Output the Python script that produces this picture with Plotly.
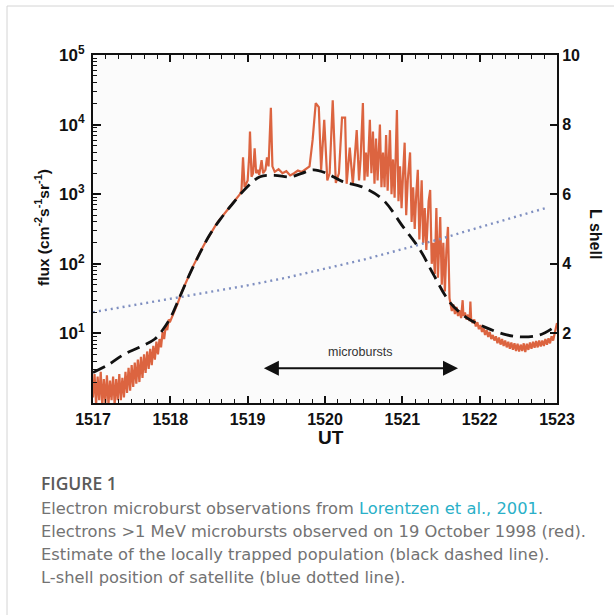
import plotly.graph_objects as go

# ---------------- data ----------------
red_time = [
    1517.00, 1517.02, 1517.04, 1517.06, 1517.08, 1517.10, 1517.12, 1517.14, 1517.16, 1517.18,
    1517.20, 1517.22, 1517.24, 1517.26, 1517.28, 1517.30, 1517.32, 1517.34, 1517.36, 1517.38,
    1517.40, 1517.42, 1517.44, 1517.46, 1517.48, 1517.50, 1517.52, 1517.54, 1517.56, 1517.58,
    1517.60, 1517.62, 1517.64, 1517.66, 1517.68, 1517.70, 1517.72, 1517.74, 1517.76, 1517.78,
    1517.80, 1517.82, 1517.84, 1517.86, 1517.88, 1517.90, 1517.92, 1517.94, 1517.96, 1517.98,
    1518.00, 1518.05, 1518.10, 1518.15, 1518.20, 1518.25, 1518.30, 1518.35, 1518.40, 1518.45,
    1518.50, 1518.55, 1518.60, 1518.65, 1518.70, 1518.75, 1518.80, 1518.85, 1518.90,
    1518.92, 1518.94, 1518.96, 1518.98, 1519.00, 1519.02, 1519.03, 1519.05, 1519.07, 1519.09,
    1519.11, 1519.13, 1519.15, 1519.18, 1519.20, 1519.23, 1519.25, 1519.27, 1519.30, 1519.32,
    1519.35, 1519.40, 1519.45, 1519.50, 1519.55, 1519.60, 1519.65, 1519.70, 1519.75,
    1519.80, 1519.84, 1519.88, 1519.92, 1519.95, 1519.99, 1520.03, 1520.06, 1520.10, 1520.14,
    1520.18, 1520.22, 1520.26, 1520.28, 1520.32, 1520.36, 1520.41, 1520.44, 1520.46, 1520.49,
    1520.51, 1520.53, 1520.55, 1520.58, 1520.60, 1520.62, 1520.64, 1520.66, 1520.68, 1520.71,
    1520.73, 1520.75, 1520.77, 1520.79, 1520.81, 1520.84, 1520.86, 1520.88, 1520.90, 1520.93,
    1520.95, 1520.97, 1520.99, 1521.01, 1521.03, 1521.05, 1521.07, 1521.10, 1521.12, 1521.14,
    1521.16, 1521.18, 1521.20, 1521.22, 1521.25, 1521.27, 1521.29, 1521.31, 1521.34, 1521.36,
    1521.38, 1521.40, 1521.42, 1521.44, 1521.46, 1521.49, 1521.51, 1521.53, 1521.55, 1521.57,
    1521.59, 1521.61, 1521.64, 1521.66, 1521.68, 1521.70, 1521.72, 1521.74, 1521.76, 1521.78,
    1521.79, 1521.81, 1521.83, 1521.85, 1521.87, 1521.88, 1521.89, 1521.91, 1521.93, 1521.95,
    1521.97, 1521.99, 1522.01, 1522.03, 1522.05, 1522.07, 1522.09, 1522.11, 1522.13, 1522.15,
    1522.17, 1522.19, 1522.21, 1522.23, 1522.25, 1522.27, 1522.29, 1522.31, 1522.33, 1522.35,
    1522.37, 1522.39, 1522.41, 1522.43, 1522.45, 1522.47, 1522.49, 1522.51, 1522.53, 1522.55,
    1522.57, 1522.59, 1522.61, 1522.63, 1522.65, 1522.67, 1522.69, 1522.71, 1522.73, 1522.75,
    1522.77, 1522.79, 1522.81, 1522.83, 1522.85, 1522.87, 1522.89, 1522.91, 1522.93, 1522.95,
    1522.97, 1522.99, 1523.00,
]
red_flux = [
    1.2, 2.6, 0.95, 2.4, 1.1, 2.8, 0.9, 2.2, 1.0, 2.5,
    0.95, 2.1, 1.1, 2.4, 0.95, 2.2, 1.1, 2.6, 1.1, 2.3,
    1.2, 2.8, 1.4, 3.2, 1.5, 3.5, 1.7, 3.8, 1.9, 4.2,
    2.0, 4.6, 2.3, 5.0, 2.7, 5.5, 3.1, 6.0, 3.5, 6.6,
    4.2, 7.6, 5.0, 8.3, 6.3, 10.5, 8.3, 12.6, 11.2, 15.8,
    15, 20, 28, 40, 52, 71, 95, 126, 158, 200,
    251, 316, 380, 447, 525, 631, 724, 851, 1000,
    1120, 3390, 1260, 1410, 1580, 3550, 7940, 1780, 2000, 4570,
    2000, 2240, 1900, 3090, 2000, 2240, 3390, 2510, 17400, 2510,
    2090, 2290, 2000, 2140, 1860, 2000, 2190, 2090, 2290,
    2510, 6030, 20400, 17800, 2240, 11700, 1580, 2000, 22400, 1450,
    2000, 12600, 12600, 1410, 4680, 1410, 8320, 1580, 3160, 20400,
    1580, 3980, 1780, 11700, 2000, 7940, 1410, 6310, 1580, 10000,
    1260, 3980, 1260, 7080, 1120, 8320, 1000, 3160, 890, 16200,
    794, 2510, 631, 2000, 5500, 500, 1580, 3980, 398, 1260,
    316, 1000, 2240, 224, 1580, 200, 631, 158, 794, 1150,
    100, 200, 71, 631, 63, 468, 50, 200, 40, 158,
    339, 32, 21, 26, 19, 24, 17.8, 21.4, 16.6, 30,
    17.8, 20, 15.8, 18.6, 15.1, 28.8, 15.8, 14.1, 15.8, 12.6,
    14.5, 11.5, 13.2, 10.5, 12.0, 9.5, 11.2, 8.9, 10.5, 8.3,
    9.5, 7.9, 9.1, 7.2, 8.7, 6.9, 8.3, 6.6, 7.9, 6.3,
    7.6, 6.0, 7.4, 5.8, 7.2, 5.6, 7.1, 5.5, 6.9, 5.6,
    7.2, 5.4, 7.1, 5.8, 7.4, 6.0, 7.6, 6.2, 7.8, 6.3,
    7.9, 6.5, 7.9, 6.6, 8.3, 6.9, 8.5, 7.2, 9.1, 7.9,
    10.5, 12.6, 14.1,
]

trapped_time = [1517.00, 1517.20, 1517.40, 1517.60, 1517.80, 1517.90, 1518.00, 1518.12, 1518.25,
                1518.38, 1518.50, 1518.64, 1518.81, 1518.99, 1519.16, 1519.35, 1519.55, 1519.70,
                1519.85, 1520.02, 1520.23, 1520.49, 1520.75, 1521.01, 1521.23, 1521.40, 1521.62,
                1521.84, 1522.09, 1522.35, 1522.56, 1522.78, 1522.95, 1523.00]
trapped_flux = [2.75, 3.55, 5.0, 6.3, 8.3, 11.2, 16.6, 33, 71,
                141, 251, 427, 741, 1259, 1778, 1862, 1778, 1995,
                2239, 1995, 1514, 1259, 832, 339, 158, 71, 27.5,
                16.6, 12.0, 9.5, 8.9, 9.5, 12.0, 13.2]

lshell_time = [1517.0, 1517.5, 1518.0, 1518.5, 1519.0, 1519.5, 1520.0, 1520.5,
               1521.0, 1521.5, 1522.0, 1522.5, 1522.88]
lshell_value = [2.61, 2.80, 2.98, 3.17, 3.38, 3.60, 3.85, 4.12,
                4.42, 4.72, 5.05, 5.38, 5.62]

x_ticks = [1517, 1518, 1519, 1520, 1521, 1522, 1523]
flux_ticks = [10, 100, 1000, 10000, 100000]
flux_ticktext = ["10<sup>1</sup>", "10<sup>2</sup>", "10<sup>3</sup>", "10<sup>4</sup>", "10<sup>5</sup>"]
lshell_ticks = [2, 4, 6, 8, 10]

microburst_start = 1519.19
microburst_end = 1521.72
microburst_level = 1.0   # on L-shell axis scale

# ---------------- layout helpers ----------------
W, H = 614, 615
L_, R_, T_, B_ = 93, 57, 55, 212
PW, PH = W - L_ - R_, H - T_ - B_

def px2x(px):
    return (px - L_) / PW

def py2y(py):
    return (H - B_ - py) / PH

FONT = "Liberation Sans, Arial, Helvetica, sans-serif"
CAP_FONT = "DejaVu Sans, Verdana, sans-serif"

fig = go.Figure()

fig.add_trace(go.Scatter(x=lshell_time, y=lshell_value, mode="lines", yaxis="y2",
                         line=dict(color="#7f8fc0", width=2.4, dash="2px,4px"),
                         showlegend=False, hoverinfo="skip"))
fig.add_trace(go.Scatter(x=red_time, y=red_flux, mode="lines",
                         line=dict(color="#dc6440", width=2.2),
                         showlegend=False))
fig.add_trace(go.Scatter(x=trapped_time, y=trapped_flux, mode="lines", line_shape="spline",
                         line=dict(color="#111111", width=2.8, dash="13px,7px"),
                         showlegend=False))

minor_vals = [m * 10 ** e for e in range(0, 5) for m in range(2, 10)]
TICKFONT = dict(size=16, family=FONT, weight="bold", color="#111")

fig.update_layout(
    width=W, height=H,
    margin=dict(l=L_, r=R_, t=T_, b=B_, pad=0),
    paper_bgcolor="white", plot_bgcolor="#fbfbfb",
    font=dict(family=FONT, color="#111111"),
    xaxis=dict(range=[1517, 1523], tickmode="array", tickvals=x_ticks,
               ticks="inside", ticklen=7, tickwidth=1.5, tickcolor="#111",
               showline=True, linewidth=2, linecolor="#111", mirror="ticks",
               showgrid=False, zeroline=False, tickfont=TICKFONT, ticklabelstandoff=1,
               minor=dict(dtick=1 / 6, tick0=1517, ticks="inside", ticklen=4,
                          tickwidth=1, tickcolor="#111", showgrid=False)),
    yaxis=dict(type="log", range=[0, 5], tickmode="array", tickvals=flux_ticks,
               ticktext=flux_ticktext, ticks="inside", ticklen=8, tickwidth=1.5,
               tickcolor="#111", showline=True, linewidth=2, linecolor="#111",
               mirror=False, showgrid=False, zeroline=False,
               tickfont=dict(size=17, family=FONT, weight="bold", color="#111"),
               ticklabelstandoff=3,
               minor=dict(tickmode="array", tickvals=minor_vals, ticks="inside",
                          ticklen=4, tickwidth=1, tickcolor="#111", showgrid=False)),
    yaxis2=dict(overlaying="y", side="right", range=[0, 10], tickmode="array",
                tickvals=lshell_ticks, ticks="inside", ticklen=7, tickwidth=1.5,
                tickcolor="#111", showline=True, linewidth=2, linecolor="#111",
                showgrid=False, zeroline=False, tickfont=TICKFONT),
)

annotations = [
    dict(x=microburst_end, y=microburst_level, xref="x", yref="y2",
         ax=microburst_start, ay=microburst_level, axref="x", ayref="y2",
         text="", showarrow=True, arrowside="end+start", arrowhead=2,
         arrowsize=1.5, arrowwidth=2, arrowcolor="#111", standoff=0, startstandoff=0),
    dict(x=(microburst_start + microburst_end) / 2, y=microburst_level + 0.47,
         xref="x", yref="y2", text="microbursts", showarrow=False, yanchor="middle",
         font=dict(size=12.5, family=FONT, color="#333")),
    dict(x=px2x(42), y=py2y(228), xref="paper", yref="paper", textangle=-90,
         xanchor="center", yanchor="middle",
         text="flux (cm<sup>-2</sup>s<sup>-1</sup>sr<sup>-1</sup>)", showarrow=False,
         font=dict(size=15.5, family=FONT, weight="bold", color="#111")),
    dict(x=px2x(596), y=py2y(234), xref="paper", yref="paper", textangle=90,
         xanchor="center", yanchor="middle",
         text="L shell", showarrow=False,
         font=dict(size=16, family=FONT, weight="bold", color="#111")),
    dict(x=px2x(331), y=py2y(437), xref="paper", yref="paper",
         xanchor="center", yanchor="middle",
         text="UT", showarrow=False,
         font=dict(size=19, family=FONT, weight="bold", color="#111")),
    dict(x=px2x(39), y=py2y(483), xref="paper", yref="paper", xanchor="left",
         yanchor="middle", text="FIGURE 1", showarrow=False,
         font=dict(size=17.5, family="Open Sans, Noto Sans, sans-serif", weight=600,
                   color="#5a5a5a")),
]

caption_lines = [
    "Electron microburst observations from "
    "<span style='color:#2ab0c8'>Lorentzen et al., 2001</span>.",
    "Electrons &gt;1 MeV microbursts observed on 19 October 1998 (red).",
    "Estimate of the locally trapped population (black dashed line).",
    "L-shell position of satellite (blue dotted line).",
]
for i, line in enumerate(caption_lines):
    annotations.append(dict(x=px2x(39), y=py2y(508 + 23.3 * i), xref="paper", yref="paper",
                            xanchor="left", yanchor="middle", text=line, showarrow=False,
                            font=dict(size=16.3, family=CAP_FONT, color="#737373")))

fig.update_layout(annotations=annotations)

fig.add_shape(type="rect", xref="paper", yref="paper",
              x0=px2x(7), y0=py2y(700), x1=px2x(700), y1=py2y(6),
              line=dict(color="#d4d4d4", width=1), fillcolor="rgba(0,0,0,0)", layer="below")

fig.write_html("out.html")
